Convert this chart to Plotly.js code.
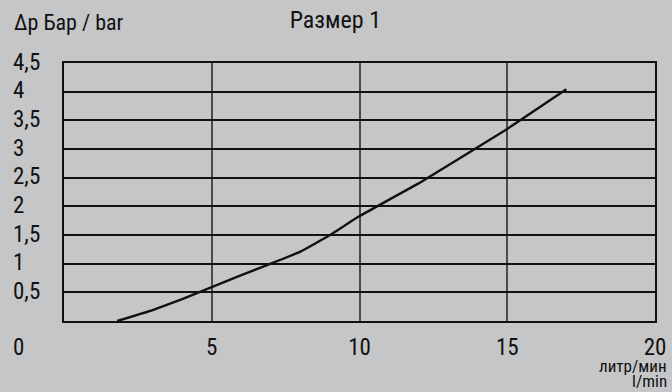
<!DOCTYPE html>
<html><head><meta charset="utf-8">
<script src="https://cdn.plot.ly/plotly-3.0.1.min.js"></script>
<style>html,body{margin:0;padding:0;background:#c5c6c8;}</style>
</head><body>
<div id="chart" style="width:672px;height:392px;"></div>
<script>
const flow = [1.8, 3, 4, 5, 6, 7, 8, 9, 10, 12, 15, 17];
const dp   = [0, 0.19, 0.38, 0.59, 0.8, 1.0, 1.21, 1.5, 1.83, 2.4, 3.35, 4.04];
const yTicks = [0.5, 1, 1.5, 2, 2.5, 3, 3.5, 4, 4.5];
const yTickLabels = ["0,5", "1", "1,5", "2", "2,5", "3", "3,5", "4", "4,5"];
const xTicks = [5, 10, 15, 20];
const xTickLabels = ["5", "10", "15", "20"];
const titleText = "Размер 1";
const yTitle = "∆p Бар / bar";
const xTitleLines = ["литр/мин", "l/min"];

const FONT = "'Liberation Sans Narrow', 'Roboto Condensed', 'Arial Narrow', 'Liberation Sans', sans-serif";
const BG = "#c5c6c8";
const TXT = "#111";

const annotations = yTicks.map((v, i) => ({
  x: 0, xref: "paper", y: v, yref: "y",
  text: yTickLabels[i], showarrow: false,
  xanchor: "left", yanchor: "middle", xshift: -53, yshift: 1,
  font: {family: FONT, size: 23, color: TXT}
}));
annotations.push({x: 0, xref: "paper", y: 0, yref: "y", text: "0", showarrow: false,
  xanchor: "left", yanchor: "middle", xshift: -53, yshift: -26,
  font: {family: FONT, size: 23, color: TXT}});
xTitleLines.forEach((t, i) => annotations.push({
  x: 1, xref: "paper", y: 0, yref: "y", text: t, showarrow: false,
  xanchor: "right", yanchor: "middle", xshift: 13, yshift: -45 - 15 * i,
  borderpad: 0,
  font: {family: FONT, size: 17, color: TXT}}));
annotations.push({x: 0, xref: "paper", y: 1, yref: "paper", text: yTitle, showarrow: false,
  xanchor: "left", yanchor: "middle", xshift: -52, yshift: 41,
  font: {family: FONT, size: 22, color: TXT}});

const data = [{
  x: flow, y: dp, type: "scatter", mode: "lines",
  line: {color: "#111", width: 2.4, shape: "spline", smoothing: 0.3},
  hoverinfo: "skip"
}];

const layout = {
  width: 672, height: 392,
  margin: {l: 64, r: 17, t: 63, b: 71},
  paper_bgcolor: BG, plot_bgcolor: BG,
  separators: ", ",
  showlegend: false,
  font: {family: FONT, size: 23, color: TXT},
  title: {text: titleText, x: 0.499, xanchor: "center", y: 0.949, yanchor: "middle",
          font: {family: FONT, size: 24, color: TXT}},
  xaxis: {range: [0, 20], tickvals: xTicks, ticktext: xTickLabels,
          showgrid: true, gridcolor: "#4a4a4a", gridwidth: 2,
          showline: true, linecolor: "#111", linewidth: 2, mirror: true,
          zeroline: false, ticks: "", ticklabelstandoff: 4,
          tickfont: {family: FONT, size: 23, color: TXT}},
  yaxis: {range: [0, 4.5], tickvals: yTicks, showticklabels: false,
          showgrid: true, gridcolor: "#111", gridwidth: 2,
          showline: true, linecolor: "#111", linewidth: 2, mirror: true,
          zeroline: false, ticks: ""},
  annotations: annotations
};
Plotly.newPlot("chart", data, layout, {displayModeBar: false, staticPlot: true});
</script>
</body></html>
